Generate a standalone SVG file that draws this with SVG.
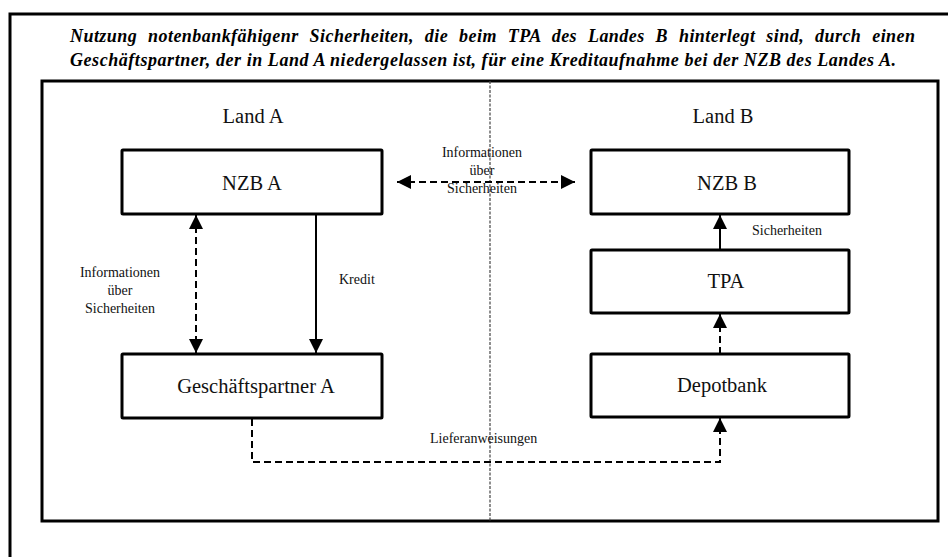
<svg xmlns="http://www.w3.org/2000/svg" width="948" height="557" viewBox="0 0 948 557">
<defs>
<style>
.frame{fill:none;stroke:#000;stroke-width:3}
.box{fill:#fff;stroke:#000;stroke-width:3}
.lbl{font-family:"Liberation Serif","Times New Roman",serif;font-size:20.5px;fill:#111;text-anchor:middle}
.sm{font-family:"Liberation Serif","Times New Roman",serif;font-size:14px;fill:#111}
.title{font-family:"Liberation Serif","Times New Roman",serif;font-size:18px;font-weight:bold;font-style:italic;fill:#000}
.solid{fill:none;stroke:#000;stroke-width:2}
.dash{fill:none;stroke:#000;stroke-width:2;stroke-dasharray:7 4}
</style>
<marker id="ah" markerUnits="userSpaceOnUse" markerWidth="14" markerHeight="14" refX="14" refY="7" orient="auto-start-reverse" viewBox="0 0 14 14">
<path d="M0,0 L14,7 L0,14 z" fill="#000"/>
</marker>
</defs>
<rect width="948" height="557" fill="#fff"/>
<g id="outer-frame">
<rect class="frame" x="10" y="14" width="960" height="560"/>
</g>
<g id="title">
<text class="title" x="70" y="42" word-spacing="6" textLength="845" lengthAdjust="spacing">Nutzung notenbankfähigenr Sicherheiten, die beim TPA des Landes B hinterlegt sind, durch einen</text>
<text class="title" x="70" y="66" textLength="826" lengthAdjust="spacing">Geschäftspartner, der in Land A niedergelassen ist, für eine Kreditaufnahme bei der NZB des Landes A.</text>
</g>
<g id="inner-frame">
<rect class="frame" x="42" y="81" width="896" height="440"/>
<line x1="490" y1="81" x2="490" y2="521" stroke="#444" stroke-width="1.2" stroke-dasharray="3 1.5"/>
<text class="lbl" x="253" y="123">Land A</text>
<text class="lbl" x="723" y="123">Land B</text>
</g>
<g id="connectors">
<line class="dash" x1="397" y1="182" x2="575" y2="182" marker-start="url(#ah)" marker-end="url(#ah)"/>
<line class="dash" x1="196" y1="215" x2="196" y2="353" marker-start="url(#ah)" marker-end="url(#ah)"/>
<line class="solid" x1="316" y1="215" x2="316" y2="353" marker-end="url(#ah)"/>
<line class="solid" x1="720" y1="250" x2="720" y2="215" marker-end="url(#ah)"/>
<line class="dash" x1="720" y1="354" x2="720" y2="314" marker-end="url(#ah)"/>
<path class="dash" d="M252,419 V462 H720 V418" marker-end="url(#ah)"/>
<text class="sm" text-anchor="middle"><tspan x="482" y="157">Informationen</tspan><tspan x="482" y="175">über</tspan><tspan x="482" y="193">Sicherheiten</tspan></text>
<text class="sm" text-anchor="middle"><tspan x="120" y="277">Informationen</tspan><tspan x="120" y="295">über</tspan><tspan x="120" y="313">Sicherheiten</tspan></text>
<text class="sm" x="339" y="284">Kredit</text>
<text class="sm" x="752" y="235">Sicherheiten</text>
<text class="sm" x="430" y="443">Lieferanweisungen</text>
</g>
<g id="nzb-a">
<rect class="box" x="122" y="150" width="260" height="64" rx="1"/>
<text class="lbl" x="252" y="190">NZB A</text>
</g>
<g id="geschaeftspartner-a">
<rect class="box" x="122" y="354" width="260" height="64" rx="1"/>
<text class="lbl" x="256" y="393">Geschäftspartner A</text>
</g>
<g id="nzb-b">
<rect class="box" x="591" y="150" width="258" height="64" rx="1"/>
<text class="lbl" x="727" y="190">NZB B</text>
</g>
<g id="tpa">
<rect class="box" x="591" y="250" width="258" height="63" rx="1"/>
<text class="lbl" x="726" y="288">TPA</text>
</g>
<g id="depotbank">
<rect class="box" x="591" y="354" width="258" height="63" rx="1"/>
<text class="lbl" x="722" y="392">Depotbank</text>
</g>
</svg>
